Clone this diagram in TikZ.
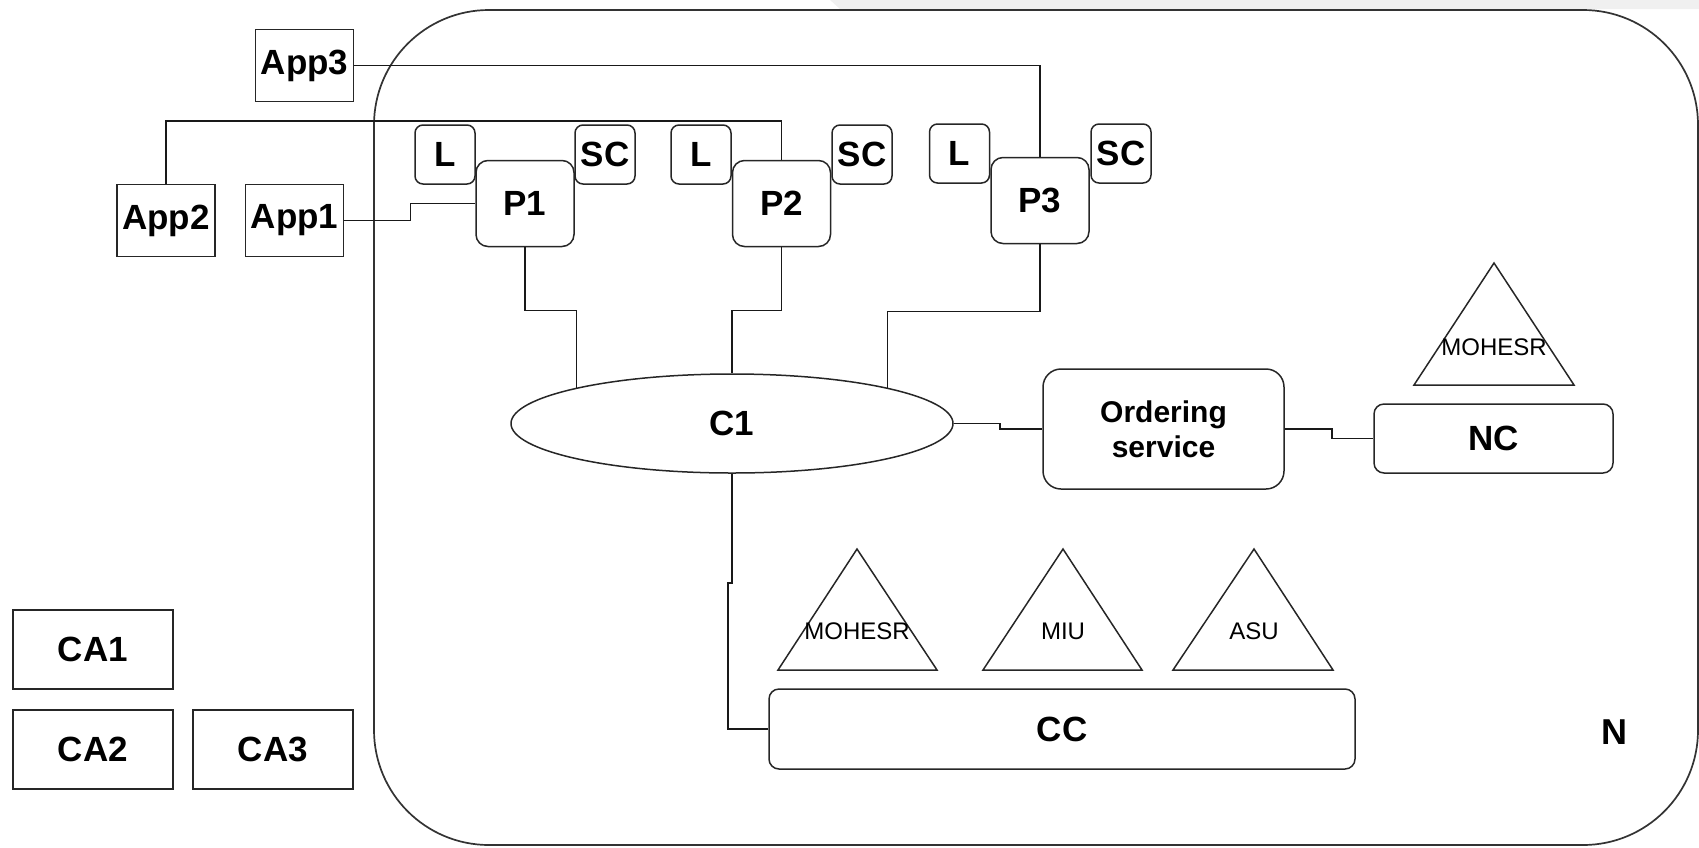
\documentclass[tikz,border=0pt]{standalone}
\usepackage{fontspec}
\setmainfont{Liberation Sans}
\usepackage{tikz}
\usetikzlibrary{shapes.geometric}

\begin{document}
\begin{tikzpicture}[x=1pt,y=-1pt,line width=1.5pt,
    box/.style={draw=black!85, minimum width=98, minimum height=72, inner sep=0pt,
        font=\fontsize{35}{40}\selectfont\bfseries},
    rbox/.style={box, rounded corners=10pt},
    tag/.style={rbox, minimum width=60, minimum height=59, rounded corners=8pt},
    peer/.style={rbox, minimum width=98, minimum height=86, rounded corners=12pt},
    tri/.style={draw=black!85, line join=miter},
    trilabel/.style={inner sep=0pt, font=\fontsize{24}{28}\selectfont},
    link/.style={draw=black!90}]
        \useasboundingbox (0,0) rectangle (1699,847);
        \fill[black!6] (830,0) -- (1699,0) -- (1699,9) -- (840,9) -- cycle;
        % network N
        \draw[black!80, line width=1.7pt, rounded corners=115pt] (374,10) rectangle (1698,845);
        \node[font=\fontsize{36}{40}\selectfont\bfseries] (nlabel) at (1614,732) {N};
        % applications
        \node[box] (app3) at (304.5,65.5) {App3};
        \node[box] (app2) at (166,220.5) {App2};
        \node[box] (app1) at (294.5,220.5) {App1};
        % peers with ledger and smart contract
        \node[tag] (l1) at (445,154.5) {L};
        \node[tag] (sc1) at (605,154.5) {SC};
        \node[peer] (p1) at (525,203.5) {P1};
        \node[tag] (l2) at (701,154.5) {L};
        \node[tag] (sc2) at (862,154.5) {SC};
        \node[peer] (p2) at (781.5,203.5) {P2};
        \node[tag] (l3) at (959.5,153.5) {L};
        \node[tag] (sc3) at (1121,153.5) {SC};
        \node[peer] (p3) at (1040,200.5) {P3};
        % channel, orderer, configs
        \node[box, ellipse, minimum width=442, minimum height=99] (c1) at (732,423.5) {C1};
        \node[rbox, minimum width=241, minimum height=120, rounded corners=18pt, align=center,
            font=\fontsize{30}{35}\selectfont\bfseries] (ord) at (1163.5,429) {Ordering\\service};
        \node[rbox, minimum width=239, minimum height=69] (nc) at (1493.5,438.5) {NC};
        \node[rbox, minimum width=586, minimum height=80] (cc) at (1062,729) {CC};
        % certificate authorities
        \node[box, minimum width=160, minimum height=79] (ca1) at (93,649.5) {CA1};
        \node[box, minimum width=160, minimum height=79] (ca2) at (93,749.5) {CA2};
        \node[box, minimum width=160, minimum height=79] (ca3) at (273,749.5) {CA3};
        % organisations
        \draw[tri] (1414,385) -- (1494,263) -- (1574,385) -- cycle;
        \node[trilabel] (orgnc) at (1494,347) {MOHESR};
        \draw[tri] (778,670) -- (857,549) -- (937,670) -- cycle;
        \node[trilabel] (orgmohesr) at (857,631) {MOHESR};
        \draw[tri] (983,670) -- (1063,549) -- (1142,670) -- cycle;
        \node[trilabel] (orgmiu) at (1063,631) {MIU};
        \draw[tri] (1173,670) -- (1254,549) -- (1333,670) -- cycle;
        \node[trilabel] (orgasu) at (1254,631) {ASU};
        % connections
        \draw[link] (app3.east) -| (p3.north);
        \draw[link] (app2.north) -- ++(0,-63) -| (p2.north);
        \draw[link] (app1.east) -- ++(66,0) |- (p1.west);
        \draw[link] (p1.south) -- ++(0,63) -| (c1.167);
        \draw[link] (p2.south) -- ++(0,63) -| (c1.north);
        \draw[link] (p3.south) -- ++(0,67) -| (c1.13);
        \draw[link] (c1.east) -- ++(46,0) |- (ord.west);
        \draw[link] (ord.east) -- ++(47,0) |- (nc.west);
        \draw[link] (c1.south) -- ++(0,109) -- ++(-4,0) |- (cc.west);
    \end{tikzpicture}
\end{document}
